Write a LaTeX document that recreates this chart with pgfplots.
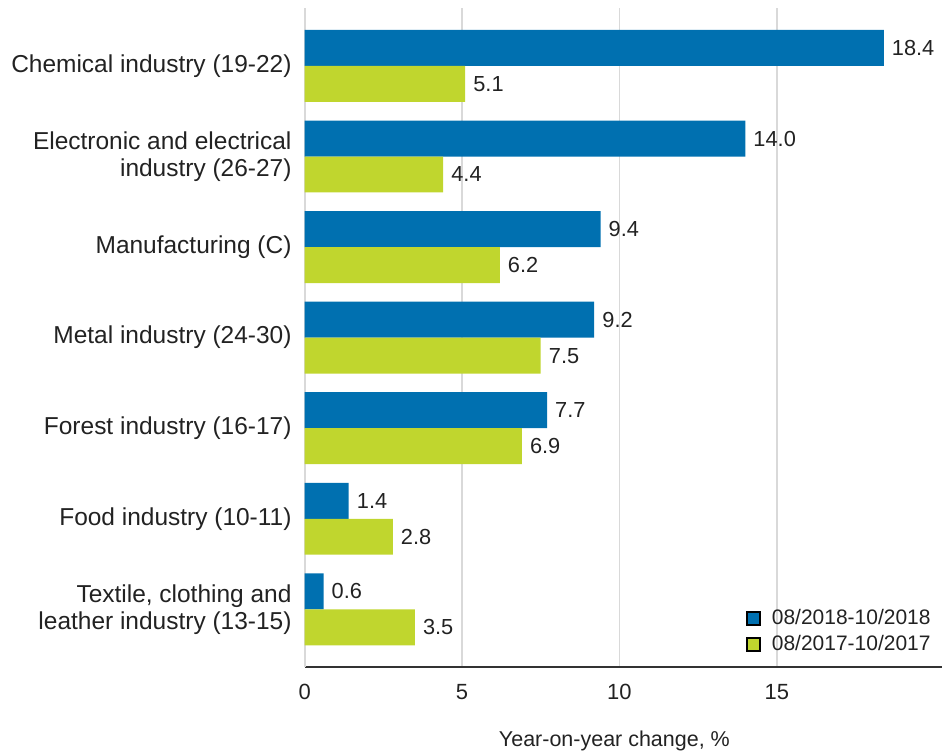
\documentclass[border=0pt]{standalone}
\usepackage{fontspec}
\setmainfont{Liberation Sans}
\usepackage{pgfplots}
\usepackage{pgfplotstable}
\pgfplotsset{compat=1.18}
\definecolor{statblue}{RGB}{0,112,176}
\definecolor{statgreen}{RGB}{192,214,46}
\definecolor{gridgray}{RGB}{217,217,217}
\definecolor{textgray}{RGB}{34,34,34}

% idx 0 = bottom category (textile), 6 = top (chemical)
\pgfplotstableread{
idx new old
0 0.6 3.5
1 1.4 2.8
2 7.7 6.9
3 9.2 7.5
4 9.4 6.2
5 14.0 4.4
6 18.4 5.1
}\industrytable

\begin{document}
\begin{tikzpicture}
\begin{axis}[
    name=ax,
    scale only axis,
    width=638bp, height=660bp,
    xbar, bar width=36bp,
    xmin=0, xmax=20.25,
    ymin=-0.64, ymax=6.64,
    xtick={0,5,10,15},
    xticklabels={0,5,10,15},
    ytick={0,...,6},
    yticklabels={{Textile, clothing and\\leather industry (13-15)},
                 {Food industry (10-11)},
                 {Forest industry (16-17)},
                 {Metal industry (24-30)},
                 {Manufacturing (C)},
                 {Electronic and electrical\\industry (26-27)},
                 {Chemical industry (19-22)}},
    xmajorgrids,
    grid style={gridgray, line width=1.5bp},
    axis x line*=bottom, axis y line*=left,
    x axis line style={black!80, line width=2bp, -},
    y axis line style={gridgray, line width=2bp, -},
    major tick length=0pt,
    xticklabel style={font=\fontsize{22bp}{25bp}\selectfont, text=textgray,
        anchor=north, inner sep=0pt, yshift=-17bp},
    yticklabel style={font=\fontsize{24.5bp}{27bp}\selectfont, text=textgray,
        anchor=east, inner sep=0pt, xshift=-13bp, align=right},
    xlabel={Year-on-year change, \%},
    xlabel style={font=\fontsize{21.5bp}{25bp}\selectfont, text=textgray,
        at={(rel axis cs:0.486,0)}, anchor=north, inner sep=0pt, yshift=-64bp},
    nodes near coords={\pgfmathprintnumber[fixed,fixed zerofill,precision=1,assume math mode=true]{\pgfplotspointmeta}},
    nodes near coords style={font=\fontsize{21.8bp}{25bp}\selectfont, text=textgray,
        anchor=west, inner sep=0pt, xshift=8bp},
    legend style={at={(rel axis cs:0.6928,0.054)}, anchor=west,
        draw=none, fill=none, inner sep=0pt,
        font=\fontsize{21bp}{25bp}\selectfont, text=textgray,
        row sep=7bp, column sep=11bp,
        nodes={inner sep=0pt, text height=15bp, text depth=4bp}},
    legend cell align=left,
    legend image code/.code={\draw[#1, draw=black, line width=1.5bp] (0bp,-6.5bp) rectangle (13bp,6.5bp);},
]
\addplot[fill=statblue, draw=none, bar shift=18bp] table[x=new, y=idx] {\industrytable};
\addlegendentry{08/2018-10/2018}
\addplot[fill=statgreen, draw=none, bar shift=-18bp] table[x=old, y=idx] {\industrytable};
\addlegendentry{08/2017-10/2017}
\end{axis}
\path ([xshift=-305bp,yshift=-88bp]ax.south west) rectangle ([yshift=8bp]ax.north east);
\end{tikzpicture}
\end{document}
